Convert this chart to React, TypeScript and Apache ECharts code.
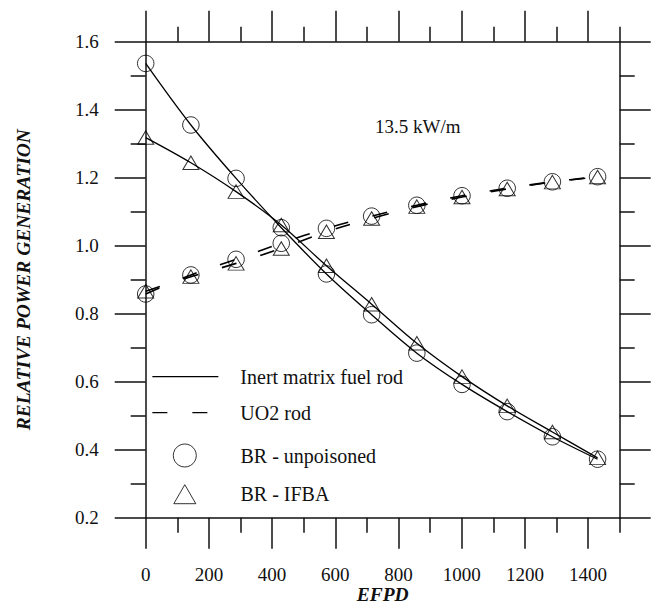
import React, { useEffect, useRef } from "react";
import * as echarts from "echarts";

// EFPD sampling points
const EFPD = [0, 143, 286, 429, 572, 715, 858, 1001, 1144, 1287, 1430];

// Inert matrix fuel rod (decreasing curves)
const imfUnpoisoned = [1.536, 1.355, 1.198, 1.053, 0.917, 0.797, 0.684, 0.592, 0.512, 0.438, 0.372];
const imfIfba = [1.318, 1.244, 1.159, 1.061, 0.941, 0.828, 0.713, 0.615, 0.529, 0.452, 0.376];

// UO2 rod (increasing curves)
const uo2Unpoisoned = [0.858, 0.914, 0.96, 1.007, 1.051, 1.087, 1.119, 1.147, 1.169, 1.188, 1.203];
const uo2Ifba = [0.866, 0.909, 0.948, 0.992, 1.041, 1.08, 1.115, 1.143, 1.167, 1.187, 1.202];

// Tick values
const X_MAJOR = [0, 200, 400, 600, 800, 1000, 1200, 1400];
const X_MINOR = [100, 300, 500, 700, 900, 1100, 1300, 1500];

const LEGEND_LINE_SOLID = "Inert matrix fuel rod";
const LEGEND_LINE_DASH = "UO2 rod";
const LEGEND_CIRCLE = "BR - unpoisoned";
const LEGEND_TRIANGLE = "BR - IFBA";

const pairs = (ys: number[]) => EFPD.map((x, i) => [x, ys[i]]);

const FONT = "Liberation Serif";
const INK = "#111";

export default function App() {
  const ref = useRef<HTMLDivElement>(null);

  useEffect(() => {
    if (!ref.current) return;
    const chart = echarts.init(ref.current, null, { renderer: "svg" });

    const axisLine = { show: true, onZero: false, lineStyle: { color: INK, width: 1.5 } };
    const noLine = { show: false, onZero: false };
    const majorTick = (len: number) => ({
      show: true,
      length: len,
      inside: false,
      lineStyle: { color: INK, width: 1.5 },
    });

    const xBase = {
      type: "value" as const,
      min: 0,
      max: 1500,
      splitLine: { show: false },
      gridIndex: 0,
    };

    const yBase = {
      type: "value" as const,
      min: 0.2,
      max: 1.6,
      interval: 0.2,
      splitLine: { show: false },
      axisLine,
      axisTick: majorTick(31),
      minorTick: { show: true, splitNumber: 2, length: 15, lineStyle: { color: INK, width: 1.5 } },
      minorSplitLine: { show: false },
    };

    const lineSeries = (name: string, ys: number[], dashed: boolean) => ({
      type: "line" as const,
      name,
      data: pairs(ys),
      symbol: "none",
      smooth: 0.35,
      lineStyle: { color: "#000", width: dashed ? 1.6 : 1.3, type: dashed ? [15, 25] : "solid" },
      itemStyle: { color: "#000" },
      z: 3,
    });

    const scatterSeries = (name: string, ys: number[], symbol: string, size: number | number[]) => ({
      type: "scatter" as const,
      name,
      data: pairs(ys),
      symbol,
      symbolSize: size,
      itemStyle: { color: "rgba(255,255,255,0)", borderColor: "#000", borderWidth: 1 },
      z: 4,
    });

    const legendText = (padLeft: number) => ({
      fontFamily: FONT,
      fontSize: 20,
      color: INK,
      padding: [0, 0, 0, padLeft],
    });

    const option: any = {
      animation: false,
      backgroundColor: "#fff",
      grid: {
        left: 145.7,
        top: 41.7,
        right: 33.3,
        bottom: 87.3,
        containLabel: false,
        outerBoundsMode: "none",
      },
      xAxis: [
        {
          ...xBase,
          position: "bottom",
          interval: 200,
          axisLine,
          axisTick: { ...majorTick(31), customValues: X_MAJOR },
          axisLabel: {
            show: true,
            customValues: X_MAJOR,
            margin: 47,
            fontFamily: FONT,
            fontSize: 19,
            color: INK,
            formatter: (v: number) => String(v),
          },
          name: "EFPD",
          nameLocation: "middle",
          nameGap: 67,
          nameMoveOverlap: false,
          nameTextStyle: { fontFamily: FONT, fontSize: 19.5, fontWeight: "bold", fontStyle: "italic", color: INK },
        },
        {
          ...xBase,
          position: "bottom",
          interval: 100,
          axisLine: noLine,
          axisTick: { ...majorTick(15), customValues: X_MINOR },
          axisLabel: { show: false },
        },
        {
          ...xBase,
          position: "top",
          interval: 200,
          axisLine,
          axisTick: { ...majorTick(31), customValues: X_MAJOR },
          axisLabel: { show: false },
        },
        {
          ...xBase,
          position: "top",
          interval: 100,
          axisLine: noLine,
          axisTick: { ...majorTick(15), customValues: X_MINOR },
          axisLabel: { show: false },
        },
      ],
      yAxis: [
        {
          ...yBase,
          position: "left",
          axisLabel: {
            show: true,
            margin: 47,
            fontFamily: FONT,
            fontSize: 19,
            color: INK,
            formatter: (v: number) => v.toFixed(1),
          },
          name: "RELATIVE POWER GENERATION",
          nameLocation: "middle",
          nameGap: 112,
          nameRotate: 90,
          nameMoveOverlap: false,
          nameTextStyle: { fontFamily: FONT, fontSize: 19.5, fontWeight: "bold", fontStyle: "italic", color: INK },
        },
        {
          ...yBase,
          position: "right",
          axisLabel: { show: false },
        },
      ],
      legend: [
        {
          data: [LEGEND_LINE_SOLID, LEGEND_LINE_DASH],
          orient: "vertical",
          left: 151.7,
          top: 366.7,
          padding: 0,
          itemWidth: 66,
          itemHeight: 22,
          itemGap: 16,
          selectedMode: false,
          itemStyle: { opacity: 0 },
          lineStyle: { width: 1.3, color: "#000" },
          textStyle: legendText(17),
        },
        {
          data: [LEGEND_CIRCLE],
          orient: "vertical",
          left: 172.8,
          top: 443.5,
          padding: 0,
          itemWidth: 23,
          itemHeight: 23,
          selectedMode: false,
          itemStyle: { borderWidth: 1, borderColor: "#000", color: "rgba(255,255,255,0)" },
          textStyle: legendText(39.2),
        },
        {
          data: [LEGEND_TRIANGLE],
          orient: "vertical",
          left: 173.3,
          top: 484.2,
          padding: 0,
          itemWidth: 22,
          itemHeight: 19,
          selectedMode: false,
          itemStyle: { borderWidth: 1, borderColor: "#000", color: "rgba(255,255,255,0)" },
          textStyle: legendText(39.7),
        },
      ],
      graphic: [
        {
          type: "text",
          left: 375,
          top: 117,
          style: { text: "13.5 kW/m", fontFamily: FONT, fontSize: 19, fill: INK },
        },
      ],
      series: [
        lineSeries(LEGEND_LINE_SOLID, imfUnpoisoned, false),
        lineSeries(LEGEND_LINE_SOLID, imfIfba, false),
        lineSeries(LEGEND_LINE_DASH, uo2Unpoisoned, true),
        lineSeries(LEGEND_LINE_DASH, uo2Ifba, true),
        scatterSeries(LEGEND_CIRCLE, imfUnpoisoned, "circle", 16.5),
        scatterSeries(LEGEND_CIRCLE, uo2Unpoisoned, "circle", 16.5),
        scatterSeries(LEGEND_TRIANGLE, imfIfba, "triangle", [16, 13.5]),
        scatterSeries(LEGEND_TRIANGLE, uo2Ifba, "triangle", [16, 13.5]),
      ],
    };

    chart.setOption(option);
    return () => chart.dispose();
  }, []);

  return (
    <div
      ref={ref}
      style={{ position: "absolute", left: 0, top: 0, width: 653, height: 605, background: "#fff" }}
    />
  );
}
